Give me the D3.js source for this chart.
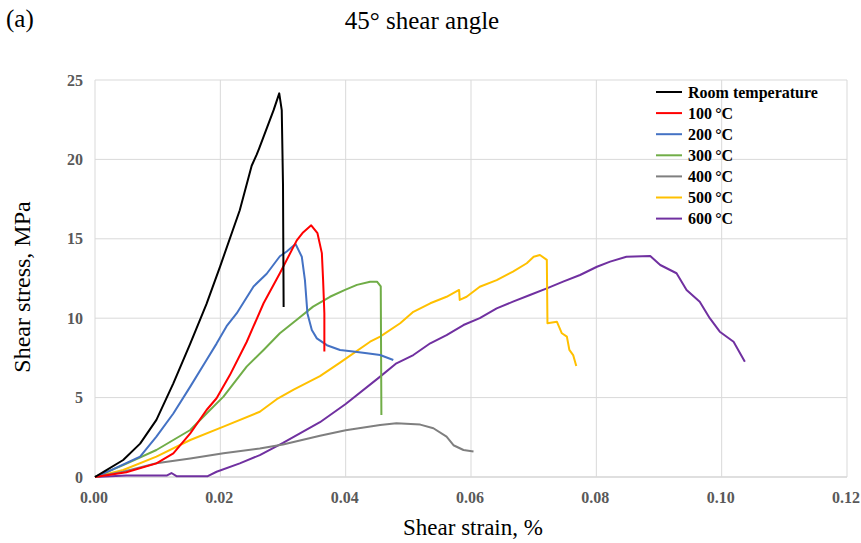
<!DOCTYPE html>
<html lang="en">
<head>
<meta charset="UTF-8">
<title>45 shear angle</title>
<style>
  body { margin: 0; background: #fff; }
  svg { display: block; font-family: "Liberation Serif", "Times New Roman", serif; }
</style>
<script src="https://d3js.org/d3.v7.min.js"></script>
</head>
<body>
<script>
// strain (%) / stress (MPa)
const rtStrain = [0, 0.0013, 0.0045, 0.0072, 0.0098, 0.0125, 0.0152, 0.0178, 0.0200, 0.0231, 0.0250, 0.0258, 0.0262, 0.0285, 0.0294, 0.0298, 0.0300, 0.0301];
const rtStress = [0, 0.3, 1.07, 2.1, 3.6, 5.9, 8.4, 10.9, 13.3, 16.8, 19.6, 20.3, 20.7, 23.1, 24.16, 23.1, 18.4, 10.7];

const t100Strain = [0, 0.005, 0.0098, 0.0125, 0.0152, 0.0178, 0.0194, 0.0215, 0.0242, 0.0269, 0.0295, 0.0322, 0.0332, 0.0345, 0.0355, 0.0362, 0.0364, 0.0366, 0.0366];
const t100Stress = [0, 0.3, 0.86, 1.49, 2.75, 4.22, 4.96, 6.4, 8.5, 10.94, 12.83, 14.9, 15.4, 15.85, 15.35, 14.1, 12.4, 10.3, 7.9];

const t200Strain = [0, 0.0024, 0.0072, 0.0098, 0.0125, 0.0152, 0.0178, 0.0194, 0.021, 0.0226, 0.0253, 0.0274, 0.0295, 0.0306, 0.032, 0.033, 0.0335, 0.0339, 0.0346, 0.0354, 0.037, 0.0391, 0.0412, 0.0434, 0.0455, 0.0476];
const t200Stress = [0, 0.4, 1.28, 2.54, 4.0, 5.69, 7.37, 8.4, 9.5, 10.3, 12.0, 12.8, 13.9, 14.2, 14.67, 13.87, 12.4, 10.3, 9.26, 8.73, 8.3, 8.0, 7.9, 7.8, 7.68, 7.37];

const t300Strain = [0, 0.0045, 0.0098, 0.0152, 0.0178, 0.0205, 0.0242, 0.0269, 0.0295, 0.0322, 0.0348, 0.0375, 0.0399, 0.0418, 0.0439, 0.0450, 0.0456, 0.0457];
const t300Stress = [0, 0.75, 1.7, 2.96, 4.0, 5.06, 6.95, 8.0, 9.05, 9.9, 10.73, 11.35, 11.78, 12.1, 12.3, 12.3, 12.0, 3.9];

const t400Strain = [0, 0.0045, 0.0098, 0.0152, 0.0205, 0.0263, 0.03, 0.0359, 0.04, 0.0455, 0.0481, 0.0519, 0.054, 0.0561, 0.0572, 0.0588, 0.0604];
const t400Stress = [0, 0.33, 0.86, 1.17, 1.49, 1.8, 2.05, 2.6, 2.95, 3.27, 3.38, 3.3, 3.07, 2.54, 2.0, 1.7, 1.6];

const t500Strain = [0, 0.0045, 0.0098, 0.0152, 0.0205, 0.0263, 0.029, 0.0317, 0.0359, 0.0391, 0.0439, 0.0455, 0.0487, 0.0508, 0.0535, 0.0561, 0.0581, 0.0582, 0.0593, 0.0614, 0.0641, 0.0667, 0.0689, 0.07, 0.071, 0.0721, 0.0722, 0.0737, 0.0745, 0.0753, 0.0757, 0.0763, 0.0768];
const t500Stress = [0, 0.44, 1.28, 2.33, 3.17, 4.11, 4.9, 5.5, 6.35, 7.2, 8.52, 8.84, 9.68, 10.4, 10.94, 11.35, 11.78, 11.15, 11.35, 11.98, 12.4, 12.93, 13.46, 13.87, 13.98, 13.67, 9.68, 9.78, 9.05, 8.84, 8.0, 7.68, 6.99];

const t600Strain = [0, 0.005, 0.0115, 0.0122, 0.013, 0.018, 0.0194, 0.0231, 0.0263, 0.03, 0.0359, 0.04, 0.0455, 0.0481, 0.0508, 0.0535, 0.0561, 0.0588, 0.0614, 0.0641, 0.0667, 0.0694, 0.0721, 0.0747, 0.0774, 0.0801, 0.0822, 0.0848, 0.0886, 0.0902, 0.0928, 0.0944, 0.0965, 0.0981, 0.0997, 0.1019, 0.1037];
const t600Stress = [0, 0.1, 0.1, 0.25, 0.05, 0.05, 0.33, 0.86, 1.38, 2.15, 3.45, 4.6, 6.32, 7.16, 7.68, 8.42, 8.94, 9.57, 10.0, 10.62, 11.04, 11.46, 11.88, 12.3, 12.72, 13.24, 13.56, 13.87, 13.92, 13.35, 12.83, 11.78, 11.04, 10.0, 9.15, 8.52, 7.26];

const seriesNames = ["Room temperature", "100\u2009°C", "200\u2009°C", "300\u2009°C", "400\u2009°C", "500\u2009°C", "600\u2009°C"];
const seriesColors = ["#000000", "#ff0000", "#4472c4", "#70ad47", "#7f7f7f", "#ffc000", "#7030a0"];
const allStrain = [rtStrain, t100Strain, t200Strain, t300Strain, t400Strain, t500Strain, t600Strain];
const allStress = [rtStress, t100Stress, t200Stress, t300Stress, t400Stress, t500Stress, t600Stress];

const xTicks = [0, 0.02, 0.04, 0.06, 0.08, 0.10, 0.12];
const yTicks = [0, 5, 10, 15, 20, 25];

const W = 861, H = 543;
const m = { left: 95, right: 14, top: 80, bottom: 66 };

const svg = d3.select("body").append("svg")
    .attr("width", W)
    .attr("height", H);

const x = d3.scaleLinear().domain([0, 0.12]).range([m.left, W - m.right]);
const y = d3.scaleLinear().domain([0, 25]).range([H - m.bottom, m.top]);

// gridlines
svg.append("g")
    .selectAll("line")
    .data(yTicks)
    .join("line")
    .attr("x1", x(0)).attr("x2", x(0.12))
    .attr("y1", d => y(d)).attr("y2", d => y(d))
    .attr("stroke", d => d === 0 ? "#bfbfbf" : "#d9d9d9")
    .attr("stroke-width", 1);

svg.append("g")
    .selectAll("line")
    .data(xTicks)
    .join("line")
    .attr("x1", d => x(d)).attr("x2", d => x(d))
    .attr("y1", y(0)).attr("y2", y(25))
    .attr("stroke", "#d9d9d9")
    .attr("stroke-width", 1);

// tick labels
svg.append("g")
    .selectAll("text")
    .data(yTicks)
    .join("text")
    .attr("x", x(0) - 12)
    .attr("y", d => y(d) + 5.5)
    .attr("text-anchor", "end")
    .attr("font-size", 16)
    .attr("font-weight", "bold")
    .attr("fill", "#595959")
    .text(d => d);

svg.append("g")
    .selectAll("text")
    .data(xTicks)
    .join("text")
    .attr("x", d => x(d) - 1)
    .attr("y", y(0) + 26)
    .attr("text-anchor", "middle")
    .attr("font-size", 16)
    .attr("font-weight", "bold")
    .attr("fill", "#595959")
    .text(d => d3.format(".2f")(d));

// curves
const line = d3.line()
    .x(d => x(d[0]))
    .y(d => y(d[1]));

const curves = allStrain.map((xs, i) => xs.map((v, j) => [v, allStress[i][j]]));

// earlier series on top
svg.append("g")
    .selectAll("path")
    .data(curves.map((c, i) => ({ c, i })).reverse())
    .join("path")
    .attr("d", d => line(d.c))
    .attr("fill", "none")
    .attr("stroke", d => seriesColors[d.i])
    .attr("stroke-width", 2)
    .attr("stroke-linejoin", "round");

// legend
const legend = svg.append("g").attr("transform", "translate(656, 92)");
const legendItems = legend.selectAll("g")
    .data(seriesNames)
    .join("g")
    .attr("transform", (d, i) => "translate(0," + (i * 21.1) + ")");

legendItems.append("line")
    .attr("x1", 0).attr("x2", 26)
    .attr("y1", 0).attr("y2", 0)
    .attr("stroke", (d, i) => seriesColors[i])
    .attr("stroke-width", 2);

legendItems.append("text")
    .attr("x", 32)
    .attr("y", 5.5)
    .attr("font-size", 16)
    .attr("font-weight", "bold")
    .attr("fill", "#000")
    .text(d => d);

// titles
svg.append("text")
    .attr("x", 6).attr("y", 27)
    .attr("font-size", 25)
    .text("(a)");

svg.append("text")
    .attr("x", 422).attr("y", 29)
    .attr("text-anchor", "middle")
    .attr("font-size", 25)
    .text("45° shear angle");

svg.append("text")
    .attr("x", 473).attr("y", 535)
    .attr("text-anchor", "middle")
    .attr("font-size", 23)
    .text("Shear strain, %");

svg.append("text")
    .attr("transform", "translate(30,287) rotate(-90)")
    .attr("text-anchor", "middle")
    .attr("font-size", 24)
    .text("Shear stress, MPa");
</script>
</body>
</html>
